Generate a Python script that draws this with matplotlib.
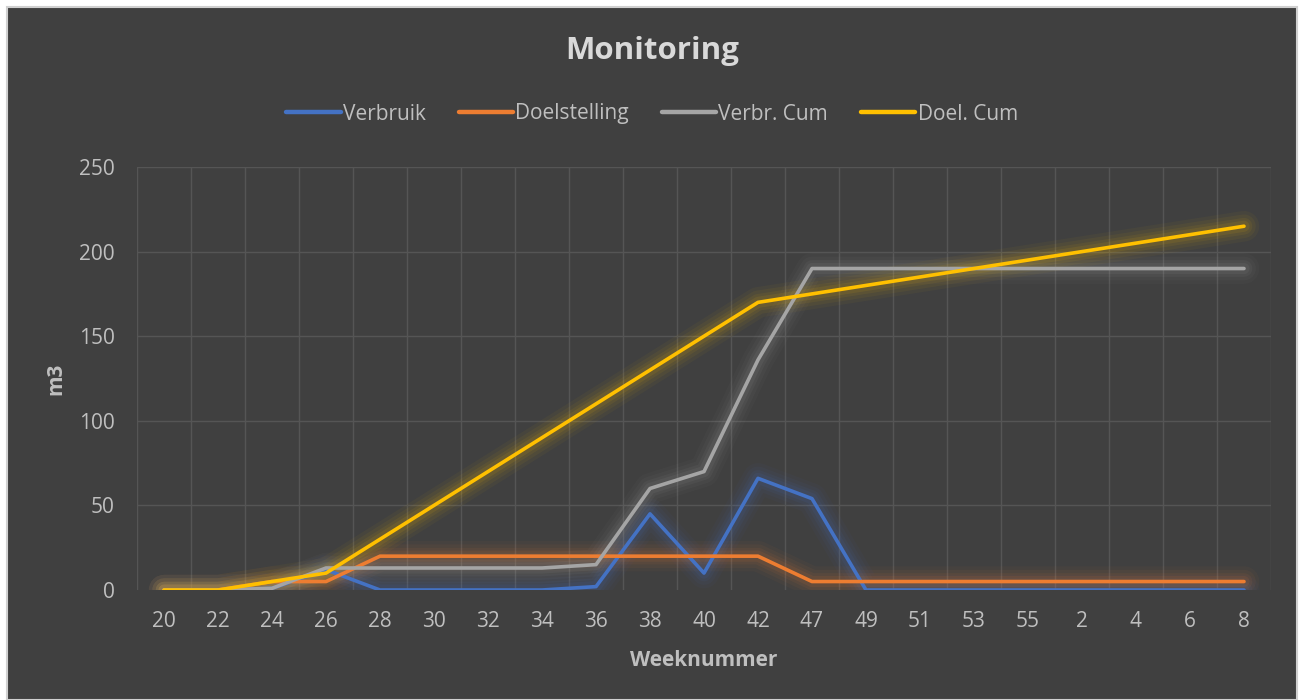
import matplotlib
matplotlib.use("Agg")
import matplotlib.pyplot as plt
from matplotlib.patches import Rectangle
import numpy as np

weeks = ["20", "22", "24", "26", "28", "30", "32", "34", "36", "38", "40",
         "42", "47", "49", "51", "53", "55", "2", "4", "6", "8"]
verbruik = [0, 0, 1, 12, 0, 0, 0, 0, 2, 45, 10, 66, 54, 0, 0, 0, 0, 0, 0, 0, 0]
doelstelling = [0, 0, 5, 5, 20, 20, 20, 20, 20, 20, 20, 20, 5, 5, 5, 5, 5, 5, 5, 5, 5]
verbr_cum = [0, 0, 1, 13, 13, 13, 13, 13, 15, 60, 70, 136, 190, 190, 190, 190, 190, 190, 190, 190, 190]
doel_cum = [0, 0, 5, 10, 30, 50, 70, 90, 110, 130, 150, 170, 175, 180, 185, 190, 195, 200, 205, 210, 215]

series = [
    ("Verbruik", verbruik, "#4472c4"),
    ("Doelstelling", doelstelling, "#ed7d31"),
    ("Verbr. Cum", verbr_cum, "#a5a5a5"),
    ("Doel. Cum", doel_cum, "#ffc000"),
]

plt.rcParams['font.family'] = ['Open Sans', 'DejaVu Sans']

bg = "#404040"
fig = plt.figure(figsize=(13.04, 7.0), dpi=100)
fig.patch.set_facecolor("white")
fig.patches.append(Rectangle((7/1304, 0), 1 - 14/1304, 1 - 7/700, transform=fig.transFigure,
                             facecolor=bg, edgecolor="#d0d0d0", linewidth=1.5, zorder=-10))

ax = fig.add_axes([137/1304, 1 - 590/700, (1271 - 137)/1304, (590 - 167)/700])
ax.set_facecolor(bg)
x = np.arange(len(weeks))

for name, vals, col in series:
    # soft glow
    for w, a in [(22, 0.04), (17, 0.05), (12, 0.065), (8, 0.09)]:
        ax.plot(x, vals, color=col, lw=w, alpha=a, solid_capstyle="round",
                solid_joinstyle="round", zorder=2)
for name, vals, col in series:
    ax.plot(x, vals, color=col, lw=2.6, label=name, solid_capstyle="round",
            solid_joinstyle="round", zorder=3)

ax.set_xlim(-0.5, len(weeks) - 0.5)
ax.set_ylim(0, 250)
ax.set_yticks(np.arange(0, 251, 50))
ax.set_xticks(x)
ax.set_xticklabels(weeks)
ax.set_xticks(np.arange(-0.5, len(weeks), 1), minor=True)
ax.grid(False)
for yv in np.arange(50, 251, 50):
    ax.axhline(yv, color="#555555", lw=1, zorder=1)
ax.grid(True, which="minor", axis="x", color="#555555", lw=1, zorder=1)
ax.tick_params(axis="both", which="both", length=0, colors="#bfbfbf", labelsize=15)
ax.tick_params(axis="x", pad=15)
ax.tick_params(axis="y", pad=16)
for s in ax.spines.values():
    s.set_visible(False)

ax.set_xlabel("Weeknummer", color="#bfbfbf", fontsize=15, fontweight="bold", labelpad=13)
ax.set_ylabel("m3", color="#bfbfbf", fontsize=15, fontweight="bold", labelpad=9)

fig.text(0.5, 1 - 51/700, "Monitoring", ha="center", va="center", color="#d9d9d9",
         fontsize=22.5, fontweight="bold")

leg = fig.legend(loc="center", bbox_to_anchor=(0.5, 1 - 114/700), ncol=4, frameon=False,
                 fontsize=15, labelcolor="#bfbfbf", handlelength=2.6, handletextpad=0.1,
                 columnspacing=1.6)
for h in leg.get_lines():
    h.set_linewidth(3.2)

fig.savefig("out.png", dpi=100, facecolor=fig.get_facecolor())
